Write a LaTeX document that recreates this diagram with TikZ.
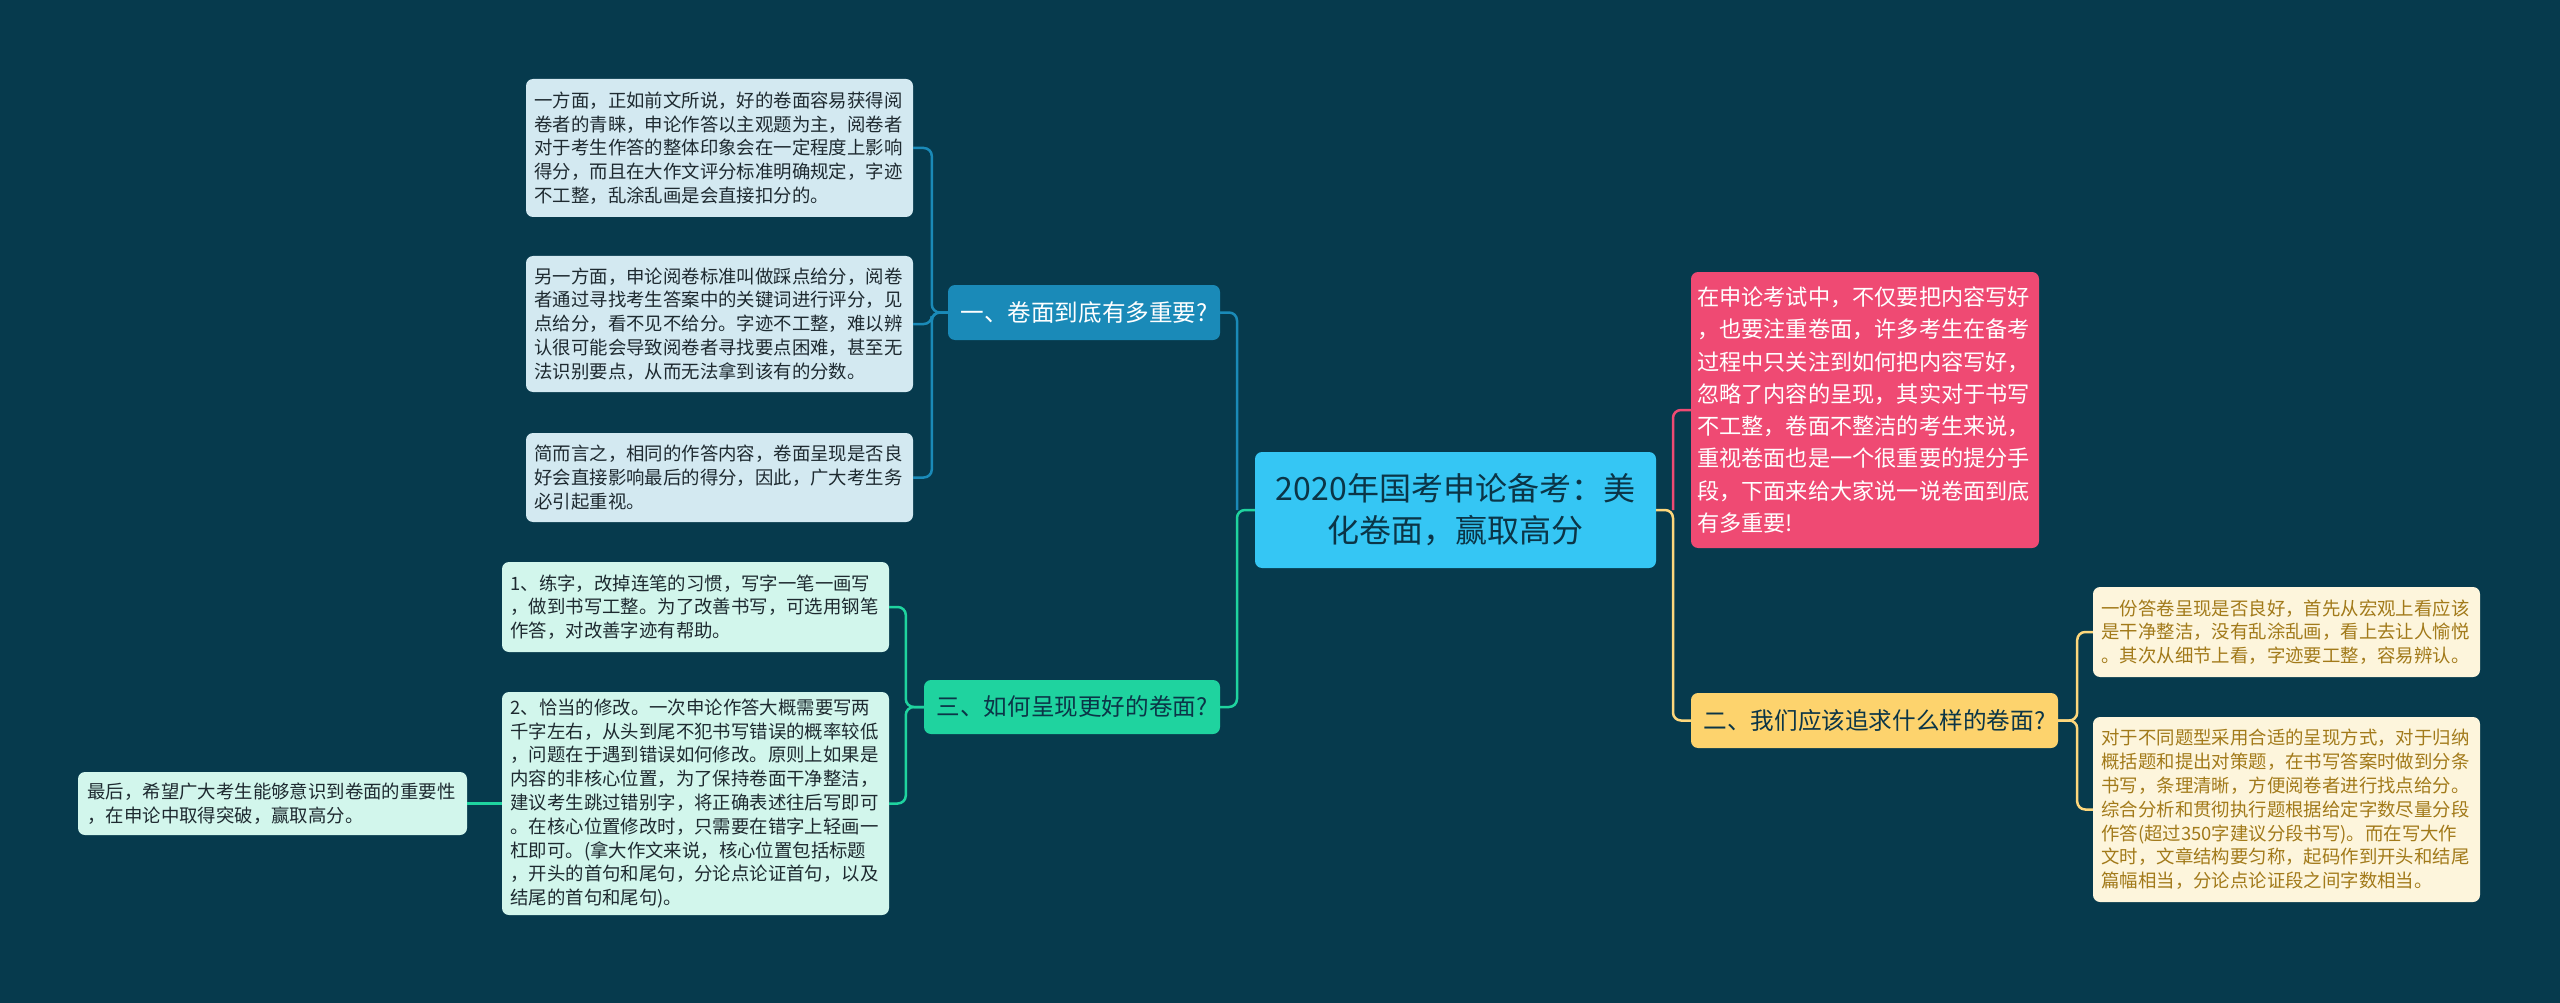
\documentclass[tikz,border=0pt]{standalone}
\usepackage{fontspec}
\newfontfamily\cjkfont{Noto Sans CJK SC}
\definecolor{bgdark}{HTML}{063A4D}
\definecolor{rootcyan}{HTML}{35C6F4}
\definecolor{inkdark}{HTML}{0B3547}
\definecolor{topicblue}{HTML}{1A8AB8}
\definecolor{topicgreen}{HTML}{1FD39F}
\definecolor{topicpink}{HTML}{EF4A73}
\definecolor{topicyellow}{HTML}{FDD36D}
\definecolor{leafblue}{HTML}{D3E9F1}
\definecolor{leafmint}{HTML}{D2F6EC}
\definecolor{leafcream}{HTML}{FDF5DC}
\definecolor{inkgold}{HTML}{A27A1A}
\definecolor{inkleaf}{HTML}{1E2A30}
\begin{document}
\begin{tikzpicture}[x=1pt, y=-1pt,
  box/.style={rounded corners=7pt, inner ysep=0pt},
  topicbox/.style={box, minimum height=55, inner xsep=0pt, align=center,
    font=\cjkfont\fontsize{23.6}{28}\selectfont},
  leafbox/.style={box, minimum width=387, text width=370, inner xsep=8.5pt, align=left,
    text=inkleaf, font=\cjkfont\fontsize{18.4}{23.8}\selectfont},
  wire/.style={line width=2.5pt, rounded corners=8pt},
  wireblue/.style={wire, draw=topicblue},
  wiregreen/.style={wire, draw=topicgreen},
  wirepink/.style={wire, draw=topicpink},
  wireyellow/.style={wire, draw=topicyellow!90!white}]
  \fill[bgdark] (0,0) rectangle (2560,1003);
  \useasboundingbox (0,0) rectangle (2560,1003);
  \node[box, fill=rootcyan, text=inkdark, minimum width=401, minimum height=116,
    text width=381, inner xsep=10pt, align=center,
    font=\cjkfont\fontsize{32}{42}\selectfont] (root) at (1455.5,510)
    {2020年国考申论备考：美\\化卷面，赢取高分};
  \node[topicbox, fill=topicblue, text=white, minimum width=272] (n1) at (1084,312.5)
    {一、卷面到底有多重要?};
  \node[topicbox, fill=topicgreen, text=inkdark, minimum width=296, minimum height=54] (n3) at (1072,707)
    {三、如何呈现更好的卷面?};
  \node[box, fill=topicpink, text=white, minimum width=348, minimum height=276,
    text width=336, inner xsep=6pt, align=left,
    font=\cjkfont\fontsize{22.2}{32.3}\selectfont] (pk) at (1865,410)
    {在申论考试中，不仅要把内容写好\\，也要注重卷面，许多考生在备考\\过程中只关注到如何把内容写好，\\忽略了内容的呈现，其实对于书写\\不工整，卷面不整洁的考生来说，\\重视卷面也是一个很重要的提分手\\段，下面来给大家说一说卷面到底\\有多重要!};
  \node[topicbox, fill=topicyellow, text=inkdark, minimum width=367] (yw) at (1874.5,720.5)
    {二、我们应该追求什么样的卷面?};
  \node[leafbox, fill=leafblue, minimum height=138] (la) at (719.5,148)
    {一方面，正如前文所说，好的卷面容易获得阅\\卷者的青睐，申论作答以主观题为主，阅卷者\\对于考生作答的整体印象会在一定程度上影响\\得分，而且在大作文评分标准明确规定，字迹\\不工整，乱涂乱画是会直接扣分的。};
  \node[leafbox, fill=leafblue, minimum height=136] (lb) at (719.5,324)
    {另一方面，申论阅卷标准叫做踩点给分，阅卷\\者通过寻找考生答案中的关键词进行评分，见\\点给分，看不见不给分。字迹不工整，难以辨\\认很可能会导致阅卷者寻找要点困难，甚至无\\法识别要点，从而无法拿到该有的分数。};
  \node[leafbox, fill=leafblue, minimum height=89] (lc) at (719.5,477.5)
    {简而言之，相同的作答内容，卷面呈现是否良\\好会直接影响最后的得分，因此，广大考生务\\必引起重视。};
  \node[leafbox, fill=leafmint, minimum height=90] (ld) at (695.5,607)
    {1、练字，改掉连笔的习惯，写字一笔一画写\\，做到书写工整。为了改善书写，可选用钢笔\\作答，对改善字迹有帮助。};
  \node[leafbox, fill=leafmint, minimum height=223] (le) at (695.5,803.5)
    {2、恰当的修改。一次申论作答大概需要写两\\千字左右，从头到尾不犯书写错误的概率较低\\，问题在于遇到错误如何修改。原则上如果是\\内容的非核心位置，为了保持卷面干净整洁，\\建议考生跳过错别字，将正确表述往后写即可\\。在核心位置修改时，只需要在错字上轻画一\\杠即可。(拿大作文来说，核心位置包括标题\\，开头的首句和尾句，分论点论证首句，以及\\结尾的首句和尾句)。};
  \node[leafbox, fill=leafmint, minimum width=389, minimum height=63] (lf) at (272.5,803.5)
    {最后，希望广大考生能够意识到卷面的重要性\\，在申论中取得突破，赢取高分。};
  \node[leafbox, fill=leafcream, text=inkgold, minimum height=90] (lg) at (2286.5,632)
    {一份答卷呈现是否良好，首先从宏观上看应该\\是干净整洁，没有乱涂乱画，看上去让人愉悦\\。其次从细节上看，字迹要工整，容易辨认。};
  \node[leafbox, fill=leafcream, text=inkgold, minimum height=185] (lh) at (2286.5,809.5)
    {对于不同题型采用合适的呈现方式，对于归纳\\概括题和提出对策题，在书写答案时做到分条\\书写，条理清晰，方便阅卷者进行找点给分。\\综合分析和贯彻执行题根据给定字数尽量分段\\作答(超过350字建议分段书写)。而在写大作\\文时，文章结构要匀称，起码作到开头和结尾\\篇幅相当，分论点论证段之间字数相当。};
  \coordinate (lbus) at (1237,510);
  \coordinate (rbus) at (1673,510);
  \draw[wireblue] (lbus) |- (n1.east);
  \draw[wiregreen] (root.west) -- (lbus) |- (n3.east);
  \draw[wirepink] (rbus) |- (pk.west);
  \draw[wireyellow] (root.east) -- (rbus) |- (yw.west);
  \foreach \leaf in {la,lb,lc}
    \draw[wireblue] (n1.west) -- ++(-16,0) |- (\leaf.east);
  \foreach \leaf in {ld,le}
    \draw[wiregreen] (n3.west) -- ++(-18,0) |- (\leaf.east);
  \draw[wiregreen] (le.west) -- (lf.east);
  \foreach \leaf in {lg,lh}
    \draw[wireyellow] (yw.east) -- ++(19,0) |- (\leaf.west);
\end{tikzpicture}
\end{document}
